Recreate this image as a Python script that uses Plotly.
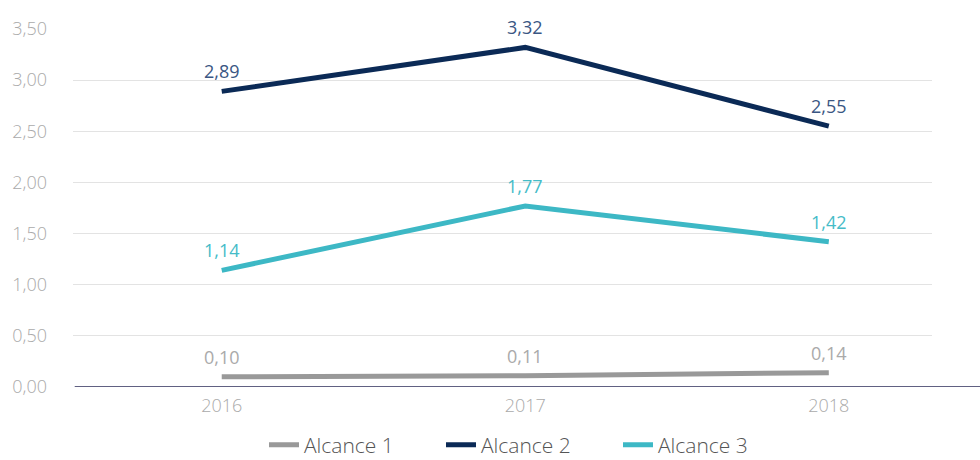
import plotly.graph_objects as go

years = ["2016", "2017", "2018"]
alcance1 = [0.10, 0.11, 0.14]
alcance2 = [2.89, 3.32, 2.55]
alcance3 = [1.14, 1.77, 1.42]
series_names = ["Alcance 1", "Alcance 2", "Alcance 3"]
colors = ["#999999", "#0b2a56", "#3db8c5"]
label_colors = ["#aaaaaa", "#3a5683", "#45bcc8"]

fig = go.Figure()
for name, vals, c, lc in zip(series_names, [alcance1, alcance2, alcance3], colors, label_colors):
    fig.add_trace(go.Scatter(
        x=years, y=vals, name=name, mode="lines",
        line=dict(color=c, width=5),
        cliponaxis=False,
    ))
    for i, v in enumerate(vals):
        fig.add_annotation(
            x=i, y=v, xref="x", yref="y",
            text=f"{v:.2f}".replace(".", ","),
            showarrow=False, yanchor="bottom", xanchor="center", yshift=6,
            font=dict(family="Open Sans", size=18, color=lc),
        )

fig.update_layout(
    width=980, height=460,
    margin=dict(l=73, r=48, t=29, b=73, autoexpand=False),
    paper_bgcolor="white", plot_bgcolor="white",
    separators=",.",
    font=dict(family="Open Sans", color="#aaaaaa"),
    showlegend=True,
    legend=dict(orientation="h", xref="container", yref="container",
                x=264 / 980, xanchor="left", y=15 / 460, yanchor="middle",
                font=dict(family="Open Sans", size=21, color="#555555", weight=300),
                entrywidth=132, traceorder="normal", bgcolor="rgba(0,0,0,0)"),
)
fig.update_xaxes(type="category", range=[-0.49, 2.34], showgrid=False, zeroline=False,
                 showline=False, ticks="", ticklabelstandoff=6,
                 tickfont=dict(family="Open Sans", size=18, color="#aaaaaa", weight=300))
fig.update_yaxes(range=[0, 3.5], dtick=0.5, tickformat=".2f", showgrid=True,
                 gridcolor="#e3e3e3", gridwidth=1, zeroline=False, showline=False,
                 ticklabelstandoff=25,
                 tickfont=dict(family="Open Sans", size=18, color="#aaaaaa", weight=300))
fig.add_shape(type="line", xref="paper", yref="y", x0=0.002, x1=1.06, y0=0, y1=0,
              line=dict(color="#2d2d58", width=1.5), layer="above")

fig.write_html("out.html", config={"displayModeBar": False},
               post_script="document.body.style.margin='0';")
